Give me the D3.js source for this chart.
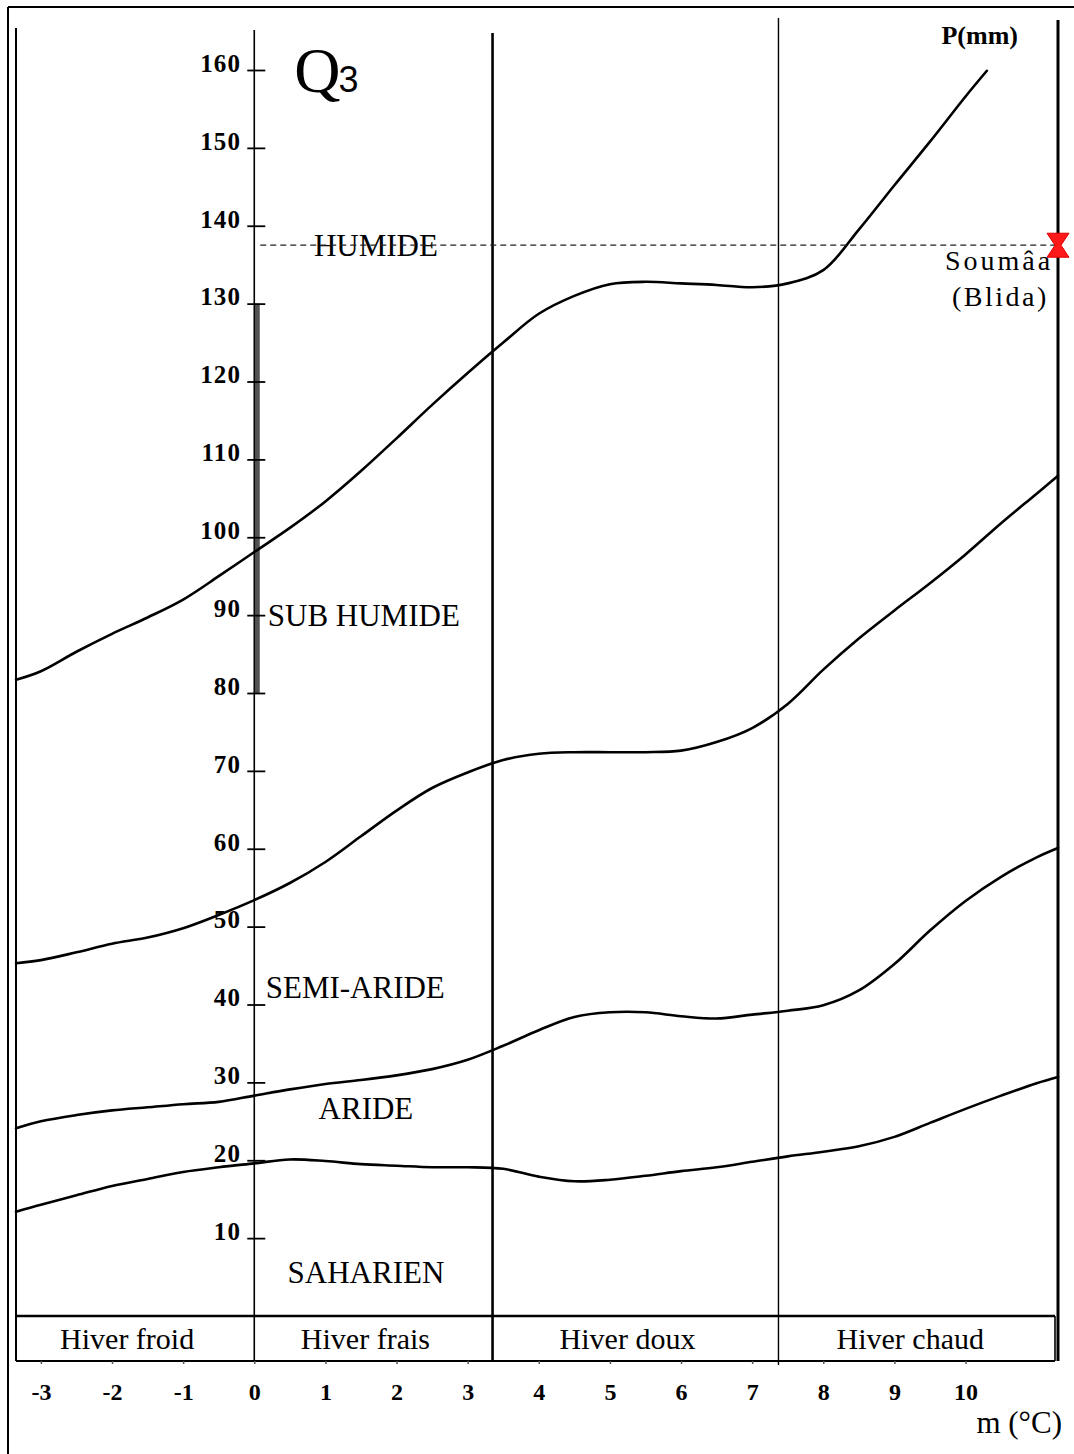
<!DOCTYPE html>
<html>
<head>
<meta charset="utf-8">
<script src="https://cdn.jsdelivr.net/npm/d3@7"></script>
<style>
  body { margin: 0; background: #fff; }
  svg { display: block; }
  text { fill: #000; }
</style>
</head>
<body>
<svg id="chart" width="1074" height="1454"></svg>
<script>
// Emberger climagram (Q3 vs m): bioclimatic stage limits and the Soumâa station.

// m (°C) at which each limit is sampled
const mSamples = [-3.35, -3, -2.5, -2, -1.5, -1, -0.5, 0, 0.5, 1, 1.5, 2, 2.5, 3, 3.5,
                  4, 4.5, 5, 5.5, 6, 6.5, 7, 7.5, 8, 8.5, 9, 9.5, 10, 10.5, 11, 11.3];
const mHumide = [-3.35, -3, -2.5, -2, -1.5, -1, -0.5, 0, 0.5, 1, 1.5, 2, 2.5, 3, 3.5,
                 4, 4.5, 5, 5.5, 6, 6.5, 7, 7.5, 8, 8.5, 9, 9.5, 10, 10.3];

// Q3 limit between humide and sub-humide
const limitHumide = [81.7, 82.8, 85.3, 87.6, 89.7, 92.0, 95.0, 98.1, 101.2, 104.6, 108.5, 112.7,
                     117.0, 121.1, 125.0, 128.7, 131.0, 132.5, 132.8, 132.6, 132.4, 132.1, 132.6,
                     134.3, 139.5, 145.2, 150.8, 156.6, 159.9];
// Q3 limit between sub-humide and semi-aride
const limitSubHumide = [45.3, 45.7, 46.7, 47.8, 48.6, 49.8, 51.5, 53.4, 55.6, 58.3, 61.6, 64.9,
                        67.8, 69.8, 71.4, 72.2, 72.4, 72.4, 72.4, 72.6, 73.7, 75.5, 78.6, 83.0,
                        87.0, 90.6, 94.1, 97.8, 101.8, 105.6, 107.9];
// Q3 limit between semi-aride and aride
const limitSemiAride = [24.1, 25.0, 25.8, 26.4, 26.8, 27.2, 27.5, 28.3, 29.1, 29.8, 30.3, 30.9,
                        31.7, 32.9, 34.7, 36.7, 38.4, 39.0, 39.0, 38.5, 38.2, 38.7, 39.2, 39.9,
                        41.8, 45.2, 49.5, 53.3, 56.4, 58.9, 60.1];
// Q3 limit between aride and saharien
const limitAride = [13.4, 14.3, 15.5, 16.7, 17.6, 18.5, 19.1, 19.6, 20.1, 19.9, 19.5, 19.3,
                    19.1, 19.1, 18.9, 17.9, 17.3, 17.5, 18.0, 18.6, 19.1, 19.8, 20.5, 21.1,
                    21.8, 23.0, 24.8, 26.6, 28.3, 29.9, 30.7];

// winter variants and their m boundaries
const winterNames = ["Hiver froid", "Hiver frais", "Hiver doux", "Hiver chaud"];
const winterBounds = [-3.35, 0, 3.35, 7.37, 11.3];

// stage names and where they are written (m, Q3)
const stageNames = ["HUMIDE", "SUB HUMIDE", "SEMI-ARIDE", "ARIDE", "SAHARIEN"];
const stageM = [1.71, 1.54, 1.42, 1.57, 1.57];
const stageQ = [136.1, 88.6, 40.8, 25.3, 4.2];

// axis ticks
const qTicks = [10, 20, 30, 40, 50, 60, 70, 80, 90, 100, 110, 120, 130, 140, 150, 160];
const mTicks = [-3, -2, -1, 0, 1, 2, 3, 4, 5, 6, 7, 8, 9, 10];

// station
const stationName = ["Soumâa", "(Blida)"];
const stationM = 11.3;
const stationQ = 137.5;

const svg = d3.select("#chart");
const SERIF = "'Liberation Serif', 'Times New Roman', serif";
const SANS = "'Liberation Sans', Arial, sans-serif";

const x = d3.scaleLinear().domain([-3.35, 11.3]).range([16, 1058]);
const y = d3.scaleLinear().domain([0, 160]).range([1316, 70]);

const bandTop = y(0), bandBottom = bandTop + 45;

svg.append("rect").attr("width", 1074).attr("height", 1454).attr("fill", "#fff");

// outer page frame
svg.append("line").attr("x1", 8).attr("x2", 1074).attr("y1", 7).attr("y2", 7)
   .attr("stroke", "#000").attr("stroke-width", 2);
svg.append("line").attr("x1", 8).attr("x2", 8).attr("y1", 7).attr("y2", 1454)
   .attr("stroke", "#000").attr("stroke-width", 2);

// vertical frame lines at the winter boundaries
const vTop = [28, 30, 33, 18, 20];
const vWidth = [2, 1.6, 2.6, 1.4, 3];
winterBounds.forEach((b, i) => {
  svg.append("line")
    .attr("x1", x(b)).attr("x2", x(b))
    .attr("y1", vTop[i]).attr("y2", i === 3 ? bandBottom + 4 : bandBottom)
    .attr("stroke", "#000").attr("stroke-width", vWidth[i]);
});

// darker section of the Q3 axis
svg.append("line")
  .attr("x1", x(0) + 3).attr("x2", x(0) + 3)
  .attr("y1", y(130)).attr("y2", y(80))
  .attr("stroke", "#333").attr("stroke-width", 5).attr("opacity", 0.85);

// winter band
svg.append("line").attr("x1", x(-3.35)).attr("x2", x(11.3) - 3)
   .attr("y1", bandTop).attr("y2", bandTop).attr("stroke", "#000").attr("stroke-width", 2.6);
svg.append("line").attr("x1", x(-3.35)).attr("x2", x(11.3) - 3)
   .attr("y1", bandBottom).attr("y2", bandBottom).attr("stroke", "#000").attr("stroke-width", 2.2);
svg.append("line").attr("x1", x(11.3) - 3).attr("x2", x(11.3) - 3)
   .attr("y1", bandTop).attr("y2", bandBottom).attr("stroke", "#000").attr("stroke-width", 1.6);

svg.selectAll("text.winter").data(winterNames).join("text")
  .attr("class", "winter")
  .attr("x", (d, i) => (x(winterBounds[i]) + x(winterBounds[i + 1])) / 2 - 8)
  .attr("y", bandTop + 33)
  .attr("text-anchor", "middle")
  .attr("font-family", SERIF).attr("font-size", 30)
  .text(d => d);

// Q3 axis
const yAxis = svg.append("g")
  .attr("transform", `translate(${x(0)},0)`)
  .call(d3.axisLeft(y).tickValues(qTicks).tickSize(8).tickPadding(12));
yAxis.select(".domain").remove();
yAxis.selectAll(".tick line").attr("x1", -7).attr("x2", 11)
  .attr("stroke", "#000").attr("stroke-width", 1.8);
yAxis.selectAll(".tick text")
  .attr("x", -13).attr("dy", "0.05em")
  .attr("font-family", SERIF).attr("font-size", 25).attr("font-weight", "bold")
  .attr("letter-spacing", 1.2);

// m axis
const xAxis = svg.append("g")
  .attr("transform", `translate(0,${bandBottom})`)
  .call(d3.axisBottom(x).tickValues(mTicks).tickSize(3).tickPadding(19)
        .tickFormat(d => (d < 0 ? "-" : "") + Math.abs(d)));
xAxis.select(".domain").remove();
xAxis.selectAll(".tick line").attr("stroke", "#555").attr("stroke-width", 1.5);
xAxis.selectAll(".tick text")
  .attr("font-family", SERIF).attr("font-size", 24).attr("font-weight", "bold");

// stage limit curves
const line = d3.line().curve(d3.curveCatmullRom.alpha(0.5)).x(d => x(d[0])).y(d => y(d[1]));
const limits = [
  d3.zip(mHumide, limitHumide),
  d3.zip(mSamples, limitSubHumide),
  d3.zip(mSamples, limitSemiAride),
  d3.zip(mSamples, limitAride)
];
svg.selectAll("path.limit").data(limits).join("path")
  .attr("class", "limit")
  .attr("d", line)
  .attr("fill", "none").attr("stroke", "#000").attr("stroke-width", 2.6)
  .attr("stroke-linejoin", "round").attr("stroke-linecap", "round");

// stage names
svg.selectAll("text.stage").data(stageNames).join("text")
  .attr("class", "stage")
  .attr("x", (d, i) => x(stageM[i]))
  .attr("y", (d, i) => y(stageQ[i]))
  .attr("text-anchor", "middle")
  .attr("font-family", SERIF).attr("font-size", 31)
  .text(d => d);

// station reference line and marker
svg.append("line")
  .attr("x1", x(0) + 6).attr("x2", x(stationM))
  .attr("y1", y(stationQ)).attr("y2", y(stationQ))
  .attr("stroke", "#222").attr("stroke-width", 1.2).attr("stroke-dasharray", "6,4");

const sx = x(stationM), sy = y(stationQ);
svg.append("path")
  .attr("d", d3.line()([[sx - 11, sy - 12], [sx + 11, sy - 12], [sx + 3, sy],
                        [sx + 11, sy + 12], [sx - 11, sy + 12], [sx - 3, sy]]) + "Z")
  .attr("fill", "#ff1a1a").attr("stroke", "#e00000").attr("stroke-width", 1);

svg.selectAll("text.station").data(stationName).join("text")
  .attr("class", "station")
  .attr("x", (d, i) => sx - (i === 0 ? 113 : 106))
  .attr("y", (d, i) => sy + 25 + i * 36)
  .attr("font-family", SERIF).attr("font-size", 28).attr("letter-spacing", (d, i) => i === 0 ? 3 : 2.5)
  .text(d => d);

// titles
const q = svg.append("text")
  .attr("x", x(0) + 40).attr("y", y(160) + 22)
  .attr("font-family", SERIF).attr("font-size", 64);
q.append("tspan").text("Q");
q.append("tspan").attr("font-family", SANS).attr("font-size", 36).attr("dx", -2).text("3");

svg.append("text")
  .attr("x", 1018).attr("y", 44)
  .attr("text-anchor", "end")
  .attr("font-family", SERIF).attr("font-size", 26).attr("font-weight", "bold")
  .text("P(mm)");

svg.append("text")
  .attr("x", 1062).attr("y", 1433)
  .attr("text-anchor", "end")
  .attr("font-family", SERIF).attr("font-size", 31)
  .text("m (°C)");
</script>
</body>
</html>
